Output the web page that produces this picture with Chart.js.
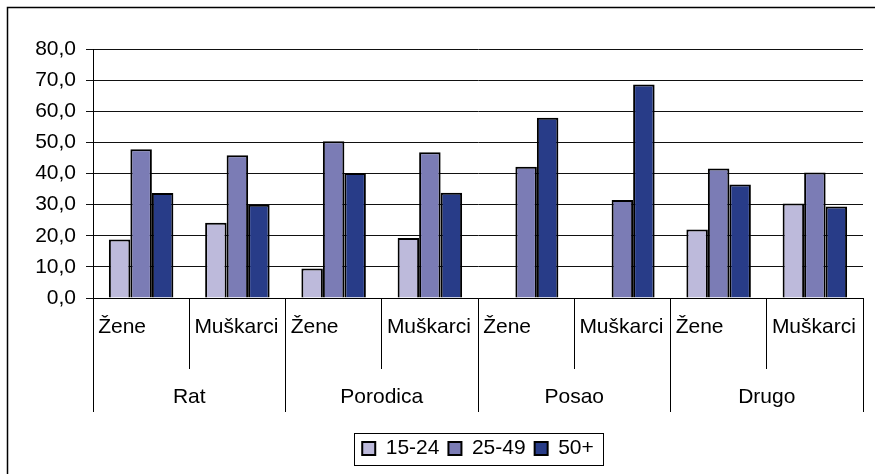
<!DOCTYPE html>
<html>
<head>
<meta charset="utf-8">
<script src="https://cdn.jsdelivr.net/npm/chart.js@4/dist/chart.umd.min.js"></script>
<style>
  html, body { margin: 0; padding: 0; background: #fff; }
  #wrap { width: 875px; height: 474px; }
</style>
</head>
<body>
<div id="wrap"><canvas id="chart"></canvas></div>
<script>
// chart values
const subLabels = ['Žene', 'Muškarci', 'Žene', 'Muškarci', 'Žene', 'Muškarci', 'Žene', 'Muškarci'];
const groupLabels = ['Rat', 'Porodica', 'Posao', 'Drugo'];
const ages15to24 = [18.8, 24.2, 9.5, 19.3, null, null, 22.0, 30.4];
const ages25to49 = [47.8, 45.9, 50.4, 46.8, 42.2, 31.5, 41.6, 40.3];
const ages50plus = [33.7, 30.0, 40.2, 33.8, 57.9, 68.6, 36.5, 29.4];
const yTicks = [0, 10, 20, 30, 40, 50, 60, 70, 80];

const FONT = { family: "'Liberation Sans', Arial, sans-serif", size: 21 };

Chart.defaults.color = '#000';
Chart.defaults.font = FONT;

// white background + outer frame (only top and left edges are inside the picture)
const framePlugin = {
  id: 'frame',
  beforeDraw(chart) {
    const ctx = chart.ctx;
    ctx.save();
    ctx.fillStyle = '#fff';
    ctx.fillRect(0, 0, chart.width, chart.height);
    ctx.strokeStyle = '#000';
    ctx.lineWidth = 1.5;
    ctx.beginPath();
    ctx.moveTo(7.5, chart.height + 5);
    ctx.lineTo(7.5, 7.5);
    ctx.lineTo(chart.width + 5, 7.5);
    ctx.stroke();
    ctx.restore();
  }
};

// box round the legend items
const legendBoxPlugin = {
  id: 'legendBox',
  afterDraw(chart) {
    const boxes = chart.legend && chart.legend.legendHitBoxes;
    if (!boxes || !boxes.length) return;
    const first = boxes[0];
    const last = boxes[boxes.length - 1];
    const cy = first.top + first.height / 2;
    const left = Math.round(first.left - 8) + 0.5;
    const right = Math.round(last.left + last.width + 9) + 0.5;
    const ctx = chart.ctx;
    ctx.save();
    ctx.strokeStyle = '#000';
    ctx.lineWidth = 1;
    ctx.strokeRect(left, Math.round(cy - 16) + 0.5, right - left, 32);
    ctx.restore();
  }
};

new Chart(document.getElementById('chart').getContext('2d'), {
  type: 'bar',
  data: {
    labels: subLabels,
    datasets: [
      { label: '15-24', data: ages15to24, backgroundColor: '#BDBADB' },
      { label: '25-49', data: ages25to49, backgroundColor: '#7B7CB5' },
      { label: '50+', data: ages50plus, backgroundColor: '#283C88' }
    ].map(ds => Object.assign(ds, {
      borderColor: '#000',
      borderWidth: 2,
      categoryPercentage: 0.67,
      barPercentage: 1
    }))
  },
  options: {
    responsive: true,
    maintainAspectRatio: false,
    animation: false,
    layout: { padding: { top: 49, right: 12, bottom: 5, left: 0 } },
    scales: {
      y: {
        min: 0,
        max: 80,
        afterBuildTicks: scale => { scale.ticks = yTicks.map(v => ({ value: v })); },
        afterFit: scale => { scale.width = 93; },
        ticks: {
          padding: 10,
          callback: v => v.toFixed(1).replace('.', ',')
        },
        grid: { color: '#111', lineWidth: 1, tickLength: 7 },
        border: { color: '#000', width: 1 }
      },
      x: {
        position: 'bottom',
        offset: true,
        afterFit: scale => { scale.height = 71; },
        ticks: {
          autoSkip: false,
          maxRotation: 0,
          align: 'start',
          labelOffset: -43,
          padding: -54
        },
        grid: { offset: true, drawOnChartArea: false, color: '#000', tickLength: 71 },
        border: { color: '#000', width: 1 }
      },
      x2: {
        type: 'category',
        position: 'bottom',
        labels: groupLabels,
        offset: true,
        afterFit: scale => { scale.height = 60; },
        ticks: { autoSkip: false, maxRotation: 0, padding: -27 },
        grid: { offset: true, drawOnChartArea: false, color: '#000', tickLength: 43 },
        border: { display: false }
      }
    },
    plugins: {
      legend: {
        position: 'bottom',
        fullSize: false,
        labels: {
          boxWidth: 13,
          boxHeight: 13,
          padding: 9,
          font: FONT,
          color: '#000'
        }
      },
      tooltip: { enabled: false }
    }
  },
  plugins: [framePlugin, legendBoxPlugin]
});
</script>
</body>
</html>
